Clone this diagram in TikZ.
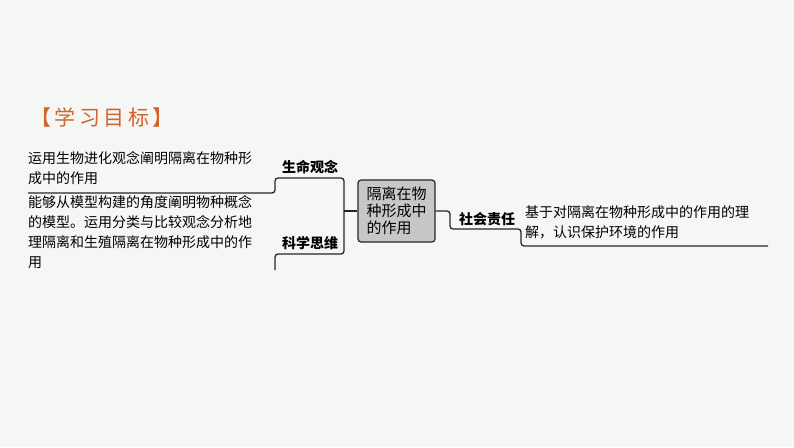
\documentclass[tikz,border=0pt]{standalone}
\usepackage{fontspec}
\setmainfont{Noto Sans CJK SC}
\newfontfamily\cjkb{Noto Sans CJK SC Bold}
\definecolor{bg}{HTML}{F5F7F5}
\definecolor{ttl}{HTML}{D2642A}
\begin{document}
\begin{tikzpicture}[x=1pt,y=-1pt,
  txt/.style={anchor=west,inner sep=0pt,font=\fontsize{14}{20}\selectfont},
  lab/.style={anchor=center,inner sep=0pt,font=\fontsize{14}{16}\selectfont\bfseries},
  ln/.style={draw=black!85,line width=1.3pt,rounded corners=3pt}]
\fill[bg] (0,0) rectangle (794,447);
\useasboundingbox (0,0) rectangle (794,447);
\node[anchor=west,inner sep=0pt,text=ttl,font=\fontsize{21}{24}\selectfont] (title) at (30,117) {【\,学\,习\,目\,标\,】};
\node[txt,align=left] (t1) at (28,168) {运用生物进化观念阐明隔离在物种形\\成中的作用};
\node[txt,align=left] (t2) at (28,232) {能够从模型构建的角度阐明物种概念\\的模型。运用分类与比较观念分析地\\理隔离和生殖隔离在物种形成中的作\\用};
\node[lab] (l1) at (310,167) {生命观念};
\node[lab] (l2) at (310,243) {科学思维};
\node[draw=black!85,line width=1.2pt,fill=black!22,rounded corners=3pt,minimum width=77pt,minimum height=62pt,inner sep=2pt,align=left,font=\fontsize{15}{17}\selectfont] (c) at (396.5,211) {隔离在物\\种形成中\\的作用};
\node[lab] (l3) at (487,219) {社会责任};
\node[txt,align=left] (t3) at (525,222) {基于对隔离在物种形成中的作用的理\\解，认识保护环境的作用};
\coordinate (j) at (344,211);
\draw[ln] (28,193) -- (275,193) -- (275,178) -- (344,178) -- (344,254) -- (275,254) -- (275,270);
\draw[line width=1.3pt,draw=black!85] (j) -- (c.west);
\draw[ln] (c.east) -- (450,211) -- (450,229) -- (521,229) -- (521,246) -- (768,246);
\end{tikzpicture}
\end{document}
